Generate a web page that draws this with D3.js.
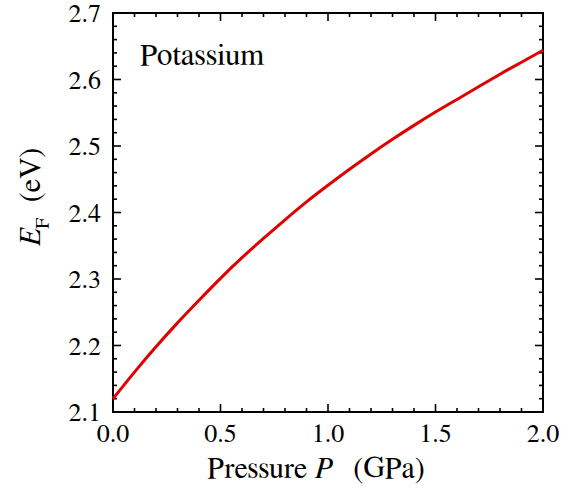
<!DOCTYPE html>
<html>
<head>
<meta charset="utf-8">
<script src="https://cdn.jsdelivr.net/npm/d3@7"></script>
<style>
  body { margin: 0; background: #fff; }
</style>
</head>
<body>
<div id="chart"></div>
<script>
// values
const pressure = [0.0, 0.1, 0.2, 0.3, 0.4, 0.5, 0.6, 0.7, 0.8, 0.9, 1.0,
                  1.1, 1.2, 1.3, 1.4, 1.5, 1.6, 1.7, 1.8, 1.9, 2.0];
const fermiE = [2.120, 2.160, 2.198, 2.234, 2.268, 2.301, 2.332, 2.361, 2.389, 2.416, 2.441,
                2.465, 2.488, 2.510, 2.531, 2.551, 2.570, 2.589, 2.608, 2.626, 2.644];
const xTicks = [0.0, 0.5, 1.0, 1.5, 2.0];
const yTicks = [2.1, 2.2, 2.3, 2.4, 2.5, 2.6, 2.7];

const width = 574, height = 489;
const padding = {top: 13, right: 31, bottom: 77, left: 113};
const serif = "FreeSerif";

const svg = d3.select("#chart").append("svg")
  .attr("width", width)
  .attr("height", height)
  .attr("font-family", serif);

const x = d3.scaleLinear().domain([0, 2]).range([padding.left, width - padding.right]);
const y = d3.scaleLinear().domain([2.1, 2.7]).range([height - padding.bottom, padding.top]);

const x0 = x.range()[0], x1 = x.range()[1];
const y0 = y.range()[0], y1 = y.range()[1];

const xMinor = d3.range(0, 2.0001, 0.1).map(d => +d.toFixed(2));
const yMinor = d3.range(2.1, 2.7001, 0.02).map(d => +d.toFixed(2));
const isMajorX = d => xTicks.some(t => Math.abs(t - d) < 1e-6);
const isMajorY = d => yTicks.some(t => Math.abs(t - d) < 1e-6);

// ticks, pointing inward on all four sides
const ticks = svg.append("g").attr("stroke", "#000").attr("stroke-width", 1.6);
xMinor.forEach(function(d) {
  const len = isMajorX(d) ? 8 : 4;
  ticks.append("line").attr("x1", x(d)).attr("x2", x(d)).attr("y1", y0).attr("y2", y0 - len);
  ticks.append("line").attr("x1", x(d)).attr("x2", x(d)).attr("y1", y1).attr("y2", y1 + len);
});
yMinor.forEach(function(d) {
  const len = isMajorY(d) ? 8 : 4;
  ticks.append("line").attr("y1", y(d)).attr("y2", y(d)).attr("x1", x0).attr("x2", x0 + len);
  ticks.append("line").attr("y1", y(d)).attr("y2", y(d)).attr("x1", x1).attr("x2", x1 - len);
});

// frame
svg.append("rect")
  .attr("x", x0).attr("y", y1)
  .attr("width", x1 - x0).attr("height", y0 - y1)
  .attr("fill", "none")
  .attr("stroke", "#000")
  .attr("stroke-width", 2);

// tick labels
svg.append("g").selectAll("text")
  .data(xTicks)
  .join("text")
    .attr("x", d => x(d))
    .attr("y", y0 + 30)
    .attr("text-anchor", "middle")
    .attr("font-size", 26)
    .text(d => d.toFixed(1));

svg.append("g").selectAll("text")
  .data(yTicks)
  .join("text")
    .attr("x", x0 - 12)
    .attr("y", d => y(d) + 9)
    .attr("text-anchor", "end")
    .attr("font-size", 26)
    .text(d => d.toFixed(1));

// the curve
svg.append("path")
  .datum(pressure.map((p, i) => [p, fermiE[i]]))
  .attr("fill", "none")
  .attr("stroke", "#e00000")
  .attr("stroke-width", 3)
  .attr("d", d3.line()
    .x(d => x(d[0]))
    .y(d => y(d[1]))
    .curve(d3.curveNatural));

// labels
svg.append("text")
  .attr("x", 140).attr("y", 65)
  .attr("font-size", 31)
  .text("Potassium");

const xt = svg.append("text")
  .attr("x", 316).attr("y", 478)
  .attr("text-anchor", "middle")
  .attr("font-size", 30);
xt.append("tspan").text("Pressure ");
xt.append("tspan").attr("font-style", "italic").text("P");
xt.append("tspan").attr("dx", 14).text(" (GPa)");

const yt = svg.append("text")
  .attr("transform", "translate(40,197) rotate(-90)")
  .attr("text-anchor", "middle")
  .attr("font-size", 30);
yt.append("tspan").attr("font-style", "italic").text("E");
yt.append("tspan").attr("font-size", 20).attr("dy", 9).text("F");
yt.append("tspan").attr("dy", -9).attr("dx", 8).text(" (eV)");
</script>
</body>
</html>
